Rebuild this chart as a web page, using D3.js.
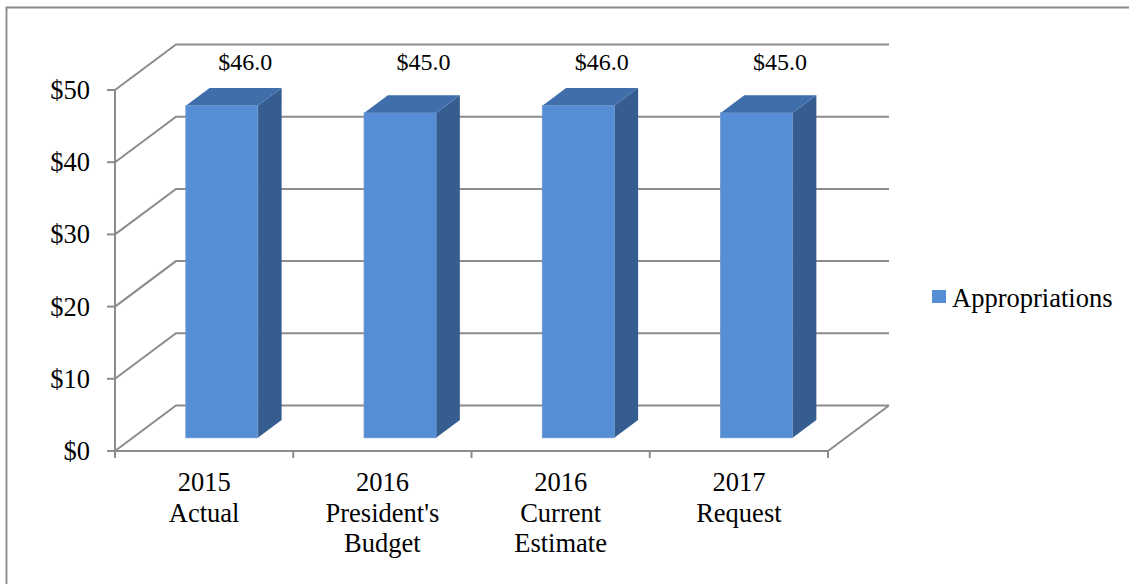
<!DOCTYPE html>
<html>
<head>
<meta charset="utf-8">
<script src="https://cdn.jsdelivr.net/npm/d3@7"></script>
<style>
  html, body { margin: 0; padding: 0; background: #ffffff; }
  svg { display: block; }
  text { font-family: "Liberation Serif", "Times New Roman", serif; fill: #000; }
</style>
</head>
<body>
<svg id="chart" width="1129" height="584"></svg>
<script>
// ---- data ----
const categories = [
  ["2015", "Actual"],
  ["2016", "President's", "Budget"],
  ["2016", "Current", "Estimate"],
  ["2017", "Request"]
];
const seriesName = "Appropriations";
const values = [46.0, 45.0, 46.0, 45.0];
const dataLabels = ["$46.0", "$45.0", "$46.0", "$45.0"];
const yTicks = [0, 10, 20, 30, 40, 50];
const yTickLabels = ["$0", "$10", "$20", "$30", "$40", "$50"];

// ---- layout ----
const svg = d3.select("#chart");
const W = 1129, H = 584;
const plotLeft = 115, plotRight = 828, plotBottom = 451, plotTop = 90;
const depth = { dx: 61, dy: -45.5 };   // back wall offset
const barFront = 0.29, barBack = 0.68; // fraction of depth

const x = d3.scaleBand()
  .domain(d3.range(categories.length))
  .range([plotLeft, plotRight])
  .paddingInner(0.596)
  .paddingOuter(0.298);
const y = d3.scaleLinear().domain([0, 50]).range([plotBottom, plotTop]);

const gridColor = "#8c8c8c";
const colFront = "#558ed5", colTop = "#3f6eab", colSide = "#355d8f";

// outer frame
svg.append("path")
  .attr("d", `M6.5,${H + 5} L6.5,7.5 L${W + 5},7.5`)
  .attr("fill", "none").attr("stroke", "#898989").attr("stroke-width", 1.8);

// gridlines (left wall diagonal + back wall horizontal)
const grid = svg.append("g").attr("fill", "none").attr("stroke", gridColor).attr("stroke-width", 2);
yTicks.forEach(t => {
  const yf = y(t);
  grid.append("path")
    .attr("d", `M${plotLeft},${yf} L${plotLeft + depth.dx},${yf + depth.dy} L${plotRight + depth.dx},${yf + depth.dy}`);
});
// floor
grid.append("path")
  .attr("d", `M${plotLeft},${y(0)} L${plotRight},${y(0)} L${plotRight + depth.dx},${y(0) + depth.dy}`);
// front left axis
grid.append("line")
  .attr("x1", plotLeft).attr("x2", plotLeft)
  .attr("y1", y(50)).attr("y2", y(0));

// y ticks and labels
yTicks.forEach((t, i) => {
  grid.append("line").attr("x1", plotLeft - 8).attr("x2", plotLeft)
    .attr("y1", y(t)).attr("y2", y(t));
  svg.append("text")
    .attr("x", 90).attr("y", y(t))
    .attr("text-anchor", "end").attr("dominant-baseline", "central")
    .attr("font-size", "26.5px")
    .text(yTickLabels[i]);
});

// category ticks
const step = x.step();
d3.range(categories.length + 1).forEach(i => {
  const xt = plotLeft + i * step;
  grid.append("line").attr("x1", xt).attr("x2", xt)
    .attr("y1", y(0)).attr("y2", y(0) + 7);
});

// category labels
categories.forEach((lines, i) => {
  const cx = x(i) + x.bandwidth() / 2;
  const t = svg.append("text").attr("text-anchor", "middle").attr("font-size", "26.5px");
  lines.forEach((ln, j) => {
    t.append("tspan").attr("x", cx).attr("y", 491 + j * 30.5).text(ln);
  });
});

// bars
const bars = svg.append("g");
values.forEach((v, i) => {
  const fx = depth.dx * barFront, fy = depth.dy * barFront;
  const bx = depth.dx * barBack, by = depth.dy * barBack;
  const x0 = x(i) + fx, x1 = x(i) + x.bandwidth() + fx;
  const yb = y(0) + fy, yt = y(v) + fy;
  const ddx = bx - fx, ddy = by - fy;
  // side
  bars.append("path")
    .attr("d", `M${x1},${yt} L${x1 + ddx},${yt + ddy} L${x1 + ddx},${yb + ddy} L${x1},${yb} Z`)
    .attr("fill", colSide);
  // top
  bars.append("path")
    .attr("d", `M${x0},${yt} L${x0 + ddx},${yt + ddy} L${x1 + ddx},${yt + ddy} L${x1},${yt} Z`)
    .attr("fill", colTop);
  // front
  bars.append("rect")
    .attr("x", x0).attr("y", yt).attr("width", x1 - x0).attr("height", yb - yt)
    .attr("fill", colFront).attr("stroke", "#6b97cf").attr("stroke-width", 0.8);
  // data label
  svg.append("text")
    .attr("x", x(i) + x.bandwidth() / 2 + 41)
    .attr("y", 70)
    .attr("text-anchor", "middle")
    .attr("font-size", "24px")
    .text(dataLabels[i]);
});

// legend
const lg = svg.append("g");
lg.append("rect").attr("x", 932).attr("y", 290).attr("width", 14).attr("height", 13).attr("fill", colFront);
lg.append("text").attr("x", 952).attr("y", 307).attr("font-size", "26.5px").text(seriesName);
</script>
</body>
</html>
